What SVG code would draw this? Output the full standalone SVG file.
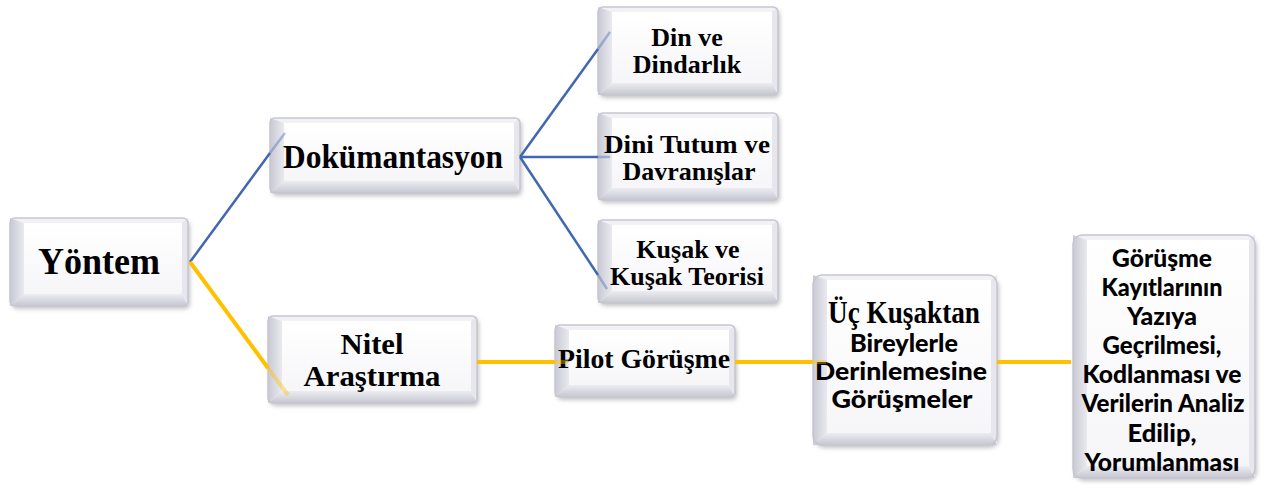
<svg xmlns="http://www.w3.org/2000/svg" width="1272" height="492" viewBox="0 0 1272 492">
<defs>
<filter id="sh" x="-10%" y="-10%" width="125%" height="125%">
<feDropShadow dx="2" dy="3" stdDeviation="2" flood-color="#7a7a88" flood-opacity="0.45"/>
</filter>
<linearGradient id="gL" x1="0" y1="0" x2="1" y2="0"><stop offset="0" stop-color="#c9c9d4"/><stop offset="1" stop-color="#e9e9ef"/></linearGradient>
<linearGradient id="gB" x1="0" y1="0" x2="0" y2="1"><stop offset="0" stop-color="#ececf2"/><stop offset="1" stop-color="#c6c6d0"/></linearGradient>
<linearGradient id="gF" x1="0" y1="0" x2="0" y2="1"><stop offset="0" stop-color="#ffffff"/><stop offset="1" stop-color="#f6f6f9"/></linearGradient>
</defs>
<style>
.base{fill:#f2f2f6;filter:url(#sh)}
.ol{fill:none;stroke:#c6c6d0;stroke-width:1.5}
.bl{fill:url(#gL)}
.bb{fill:url(#gB)}
.br{fill:#e6e6ec}
.fc{fill:url(#gF)}
.sr{font-family:"Liberation Serif","Times New Roman",serif;font-weight:bold;fill:#000;text-anchor:middle}
.ss{font-family:Lato,"Liberation Sans",sans-serif;font-weight:900;fill:#000;text-anchor:middle;font-size:24px}
.bl2{stroke:#4267b2;stroke-width:2.5;fill:none}
.bl2f{stroke:#4267b2;stroke-width:2.5;fill:none;opacity:0.4}
.yl{stroke:#ffc000;stroke-width:4;fill:none}
.ylf{stroke:#ffc000;stroke-width:4;fill:none;opacity:0.4}
</style>

<g id="n-yontem">
<rect class="base" x="10" y="218" width="178" height="88" rx="5"/>
<polygon class="bl" points="10,218 24,223 24,294 10,306"/>
<polygon class="bb" points="10,306 24,294 182,294 188,306"/>
<polygon class="br" points="188,218 188,306 182,294 182,223"/>
<rect class="fc" x="24" y="223" width="158" height="71"/>
<rect class="ol" x="10" y="218" width="178" height="88" rx="5"/>
<text class="sr" x="99" y="274" font-size="38" textLength="122" lengthAdjust="spacingAndGlyphs">Yöntem</text>
</g>

<g id="n-dokumantasyon">
<rect class="base" x="270" y="118" width="250" height="75" rx="5"/>
<polygon class="bl" points="270,118 284,123 284,181 270,193"/>
<polygon class="bb" points="270,193 284,181 514,181 520,193"/>
<polygon class="br" points="520,118 520,193 514,181 514,123"/>
<rect class="fc" x="284" y="123" width="230" height="58"/>
<rect class="ol" x="270" y="118" width="250" height="75" rx="5"/>
<text class="sr" x="393" y="168" font-size="33" textLength="220" lengthAdjust="spacingAndGlyphs">Dokümantasyon</text>
</g>

<g id="n-din">
<rect class="base" x="598" y="7" width="180" height="88" rx="5"/>
<polygon class="bl" points="598,7 612,12 612,83 598,95"/>
<polygon class="bb" points="598,95 612,83 772,83 778,95"/>
<polygon class="br" points="778,7 778,95 772,83 772,12"/>
<rect class="fc" x="612" y="12" width="160" height="71"/>
<rect class="ol" x="598" y="7" width="180" height="88" rx="5"/>
<text class="sr" x="687" y="46" font-size="26">Din ve</text>
<text class="sr" x="687" y="73" font-size="26">Dindarlık</text>
</g>

<g id="n-tutum">
<rect class="base" x="598" y="113" width="180" height="87" rx="5"/>
<polygon class="bl" points="598,113 612,118 612,188 598,200"/>
<polygon class="bb" points="598,200 612,188 772,188 778,200"/>
<polygon class="br" points="778,113 778,200 772,188 772,118"/>
<rect class="fc" x="612" y="118" width="160" height="70"/>
<rect class="ol" x="598" y="113" width="180" height="87" rx="5"/>
<text class="sr" x="687" y="153" font-size="26" textLength="166" lengthAdjust="spacingAndGlyphs">Dini Tutum ve</text>
<text class="sr" x="689" y="180" font-size="26">Davranışlar</text>
</g>

<g id="n-kusak">
<rect class="base" x="598" y="220" width="180" height="83" rx="5"/>
<polygon class="bl" points="598,220 612,225 612,291 598,303"/>
<polygon class="bb" points="598,303 612,291 772,291 778,303"/>
<polygon class="br" points="778,220 778,303 772,291 772,225"/>
<rect class="fc" x="612" y="225" width="160" height="66"/>
<rect class="ol" x="598" y="220" width="180" height="83" rx="5"/>
<text class="sr" x="688" y="258" font-size="26">Kuşak ve</text>
<text class="sr" x="687" y="285" font-size="26">Kuşak Teorisi</text>
</g>

<g id="n-nitel">
<rect class="base" x="268" y="316" width="209" height="87" rx="5"/>
<polygon class="bl" points="268,316 282,321 282,391 268,403"/>
<polygon class="bb" points="268,403 282,391 471,391 477,403"/>
<polygon class="br" points="477,316 477,403 471,391 471,321"/>
<rect class="fc" x="282" y="321" width="189" height="70"/>
<rect class="ol" x="268" y="316" width="209" height="87" rx="5"/>
<text class="sr" x="372" y="354" font-size="29" textLength="63" lengthAdjust="spacingAndGlyphs">Nitel</text>
<text class="sr" x="372" y="386" font-size="29" textLength="137" lengthAdjust="spacingAndGlyphs">Araştırma</text>
</g>

<g id="n-pilot">
<rect class="base" x="555" y="325" width="180" height="72" rx="5"/>
<polygon class="bl" points="555,325 569,330 569,385 555,397"/>
<polygon class="bb" points="555,397 569,385 729,385 735,397"/>
<polygon class="br" points="735,325 735,397 729,385 729,330"/>
<rect class="fc" x="569" y="330" width="160" height="55"/>
<rect class="ol" x="555" y="325" width="180" height="72" rx="5"/>
<text class="sr" x="644" y="368" font-size="28" textLength="172" lengthAdjust="spacingAndGlyphs">Pilot Görüşme</text>
</g>

<g id="n-uc">
<rect class="base" x="813" y="275" width="184" height="170" rx="9"/>
<polygon class="bl" points="813,275 827,280 827,433 813,445"/>
<polygon class="bb" points="813,445 827,433 991,433 997,445"/>
<polygon class="br" points="997,275 997,445 991,433 991,280"/>
<rect class="fc" x="827" y="280" width="164" height="153"/>
<rect class="ol" x="813" y="275" width="184" height="170" rx="9"/>
<text class="sr" x="904" y="323" font-size="31" textLength="152" lengthAdjust="spacingAndGlyphs">Üç Kuşaktan</text>
<text class="ss" x="904" y="352" textLength="108" lengthAdjust="spacingAndGlyphs">Bireylerle</text>
<text class="ss" x="901" y="380" textLength="172" lengthAdjust="spacingAndGlyphs">Derinlemesine</text>
<text class="ss" x="902" y="408" textLength="141" lengthAdjust="spacingAndGlyphs">Görüşmeler</text>
</g>

<g id="n-gorusme">
<rect class="base" x="1073" y="235" width="182" height="243" rx="9"/>
<polygon class="bl" points="1073,235 1087,240 1087,466 1073,478"/>
<polygon class="bb" points="1073,478 1087,466 1249,466 1255,478"/>
<polygon class="br" points="1255,235 1255,478 1249,466 1249,240"/>
<rect class="fc" x="1087" y="240" width="162" height="226"/>
<rect class="ol" x="1073" y="235" width="182" height="243" rx="9"/>
<text class="ss" x="1162" y="267" textLength="100" lengthAdjust="spacingAndGlyphs">Görüşme</text>
<text class="ss" x="1162" y="296" textLength="121" lengthAdjust="spacingAndGlyphs">Kayıtlarının</text>
<text class="ss" x="1162" y="325" textLength="70" lengthAdjust="spacingAndGlyphs">Yazıya</text>
<text class="ss" x="1162" y="354" textLength="119" lengthAdjust="spacingAndGlyphs">Geçrilmesi,</text>
<text class="ss" x="1162" y="383" textLength="159" lengthAdjust="spacingAndGlyphs">Kodlanması ve</text>
<text class="ss" x="1163" y="412" textLength="163" lengthAdjust="spacingAndGlyphs">Verilerin Analiz</text>
<text class="ss" x="1162" y="442" textLength="69" lengthAdjust="spacingAndGlyphs">Edilip,</text>
<text class="ss" x="1162" y="471" textLength="155" lengthAdjust="spacingAndGlyphs">Yorumlanması</text>
</g>

<g id="connectors">
<line class="bl2" x1="190" y1="262" x2="270" y2="153"/>
<line class="bl2f" x1="270" y1="153" x2="285" y2="133"/>
<line class="yl" x1="190" y1="262" x2="268" y2="368"/>
<line class="ylf" x1="268" y1="368" x2="288" y2="395"/>
<line class="bl2" x1="520" y1="157" x2="598" y2="49"/>
<line class="bl2f" x1="598" y1="49" x2="610" y2="32"/>
<line class="bl2" x1="520" y1="157" x2="598" y2="157"/>
<line class="bl2f" x1="598" y1="157" x2="610" y2="157"/>
<line class="bl2" x1="520" y1="157" x2="598" y2="275"/>
<line class="bl2f" x1="598" y1="275" x2="607" y2="289"/>
<line class="yl" x1="477" y1="362" x2="555" y2="362"/>
<line class="ylf" x1="555" y1="362" x2="568" y2="362"/>
<line class="yl" x1="735" y1="362" x2="813" y2="362"/>
<line class="ylf" x1="813" y1="362" x2="826" y2="362"/>
<line class="yl" x1="997" y1="362" x2="1071" y2="362"/>
</g>
</svg>
